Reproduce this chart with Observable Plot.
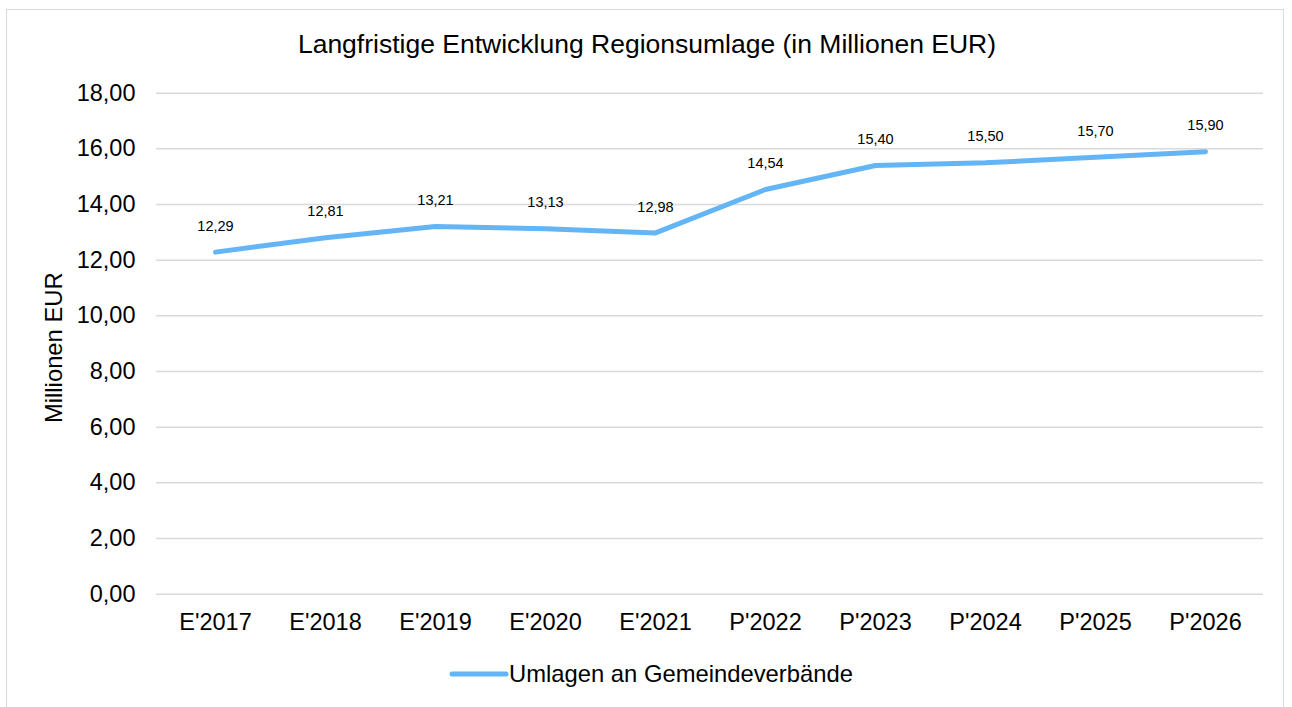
<!DOCTYPE html>
<html>
<head>
<meta charset="utf-8">
<script src="https://cdn.jsdelivr.net/npm/d3@7"></script>
<script src="https://cdn.jsdelivr.net/npm/@observablehq/plot@0.6"></script>
<style>
  html, body { margin: 0; padding: 0; background: #fff; width: 1292px; height: 707px; overflow: hidden; }
  body { font-family: "Liberation Sans", Arial, sans-serif; color: #000; position: relative; }
  #frame { position: absolute; left: 6px; top: 9px; width: 1278px; height: 740px; border: 1.5px solid #d9d9d9; box-sizing: border-box; }
  #title { position: absolute; left: 0; width: 1294px; top: 31px; text-align: center; font-size: 26.5px; line-height: 26px; white-space: nowrap; }
  #chart { position: absolute; left: 0; top: 70px; }
  #legend { position: absolute; left: 449px; top: 662px; height: 24px; display: flex; align-items: center; }
  #legend span { font-size: 23.8px; line-height: 24px; white-space: nowrap; }
</style>
</head>
<body>
<div id="frame"></div>
<div id="title">Langfristige Entwicklung Regionsumlage (in Millionen EUR)</div>
<div id="chart"></div>
<div id="legend"><svg width="60" height="12" style="display:block"><line x1="3" y1="6" x2="57" y2="6" stroke="#64b5f6" stroke-width="5" stroke-linecap="round"/></svg><span>Umlagen an Gemeindeverbände</span></div>
<script>
const categories = ["E'2017", "E'2018", "E'2019", "E'2020", "E'2021", "P'2022", "P'2023", "P'2024", "P'2025", "P'2026"];
const values = [12.29, 12.81, 13.21, 13.13, 12.98, 14.54, 15.40, 15.50, 15.70, 15.90];
const yTicks = [0, 2, 4, 6, 8, 10, 12, 14, 16, 18];
const seriesName = "Umlagen an Gemeindeverbände";
const yLabel = "Millionen EUR";

const fmt = v => d3.format(".2f")(v).replace(".", ",");
const data = categories.map((c, i) => ({cat: c, value: values[i]}));
const lineColor = "#64b5f6";

const chart = Plot.plot({
  width: 1292,
  height: 580,
  marginLeft: 156,
  marginRight: 29,
  marginTop: 22.7,
  marginBottom: 56.3,
  style: { fontFamily: '"Liberation Sans", Arial, sans-serif', fontSize: "23.5px", color: "#000", background: "transparent" },
  x: { type: "point", domain: categories, padding: 0.5, align: 0.5 },
  y: { domain: [0, 18] },
  marks: [
    Plot.ruleY(yTicks, { stroke: "#d9d9d9", strokeWidth: 1.5 }),
    Plot.axisX({ tickSize: 0, tickPadding: 19, label: null, fontSize: "23.5px" }),
    Plot.axisY({ ticks: yTicks, tickSize: 0, tickPadding: 21, tickFormat: fmt, label: null, fontSize: "23.5px" }),
    Plot.text([yLabel], { frameAnchor: "left", textAnchor: "middle", text: d => d, rotate: -90, dx: -102.5, dy: 4, fontSize: 23.8, fill: "#000" }),
    Plot.line(data, { x: "cat", y: "value", stroke: lineColor, strokeWidth: 5, strokeLinecap: "round", strokeLinejoin: "round" }),
    Plot.text(data, { x: "cat", y: "value", text: d => fmt(d.value), dy: -26, fontSize: 14.5, fill: "#000" })
  ]
});
document.getElementById("chart").appendChild(chart);
</script>
</body>
</html>
